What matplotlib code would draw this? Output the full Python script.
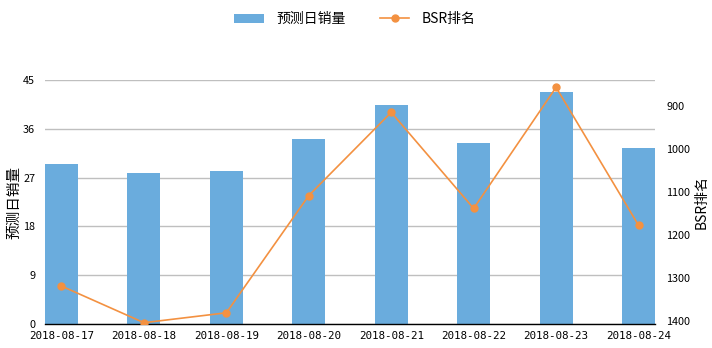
import matplotlib
matplotlib.use("Agg")
import matplotlib.pyplot as plt
import numpy as np

plt.rcParams["font.family"] = ["Noto Sans CJK SC", "DejaVu Sans"]
plt.rcParams["axes.unicode_minus"] = False

# =============================================
#  数据
# =============================================
dates = ["2018-08-17", "2018-08-18", "2018-08-19", "2018-08-20",
         "2018-08-21", "2018-08-22", "2018-08-23", "2018-08-24"]
sales = [29.5, 27.8, 28.2, 34.1, 40.4, 33.4, 42.8, 32.5]
bsr_rank = [1318, 1403, 1380, 1108, 915, 1138, 857, 1177]

BAR_COLOR = "#6AACDD"
LINE_COLOR = "#F39141"
GRID_COLOR = "#BFBFBF"

fig = plt.figure(figsize=(7.12, 3.48), dpi=100)
ax = fig.add_axes([45 / 712, 1 - 324 / 348, 610 / 712, 244 / 348])
ax2 = ax.twinx()

x = np.arange(len(dates))
bars = ax.bar(x, sales, 0.4, color=BAR_COLOR, label="预测日销量", zorder=2)
line, = ax2.plot(x, bsr_rank, color=LINE_COLOR, linewidth=1.2, marker="o",
                 markersize=5, label="BSR排名", zorder=3)

# 左轴
ax.set_xlim(-0.2, len(dates) - 0.8)
ax.set_ylim(0, 45)
ax.set_yticks(np.arange(0, 46, 9))
ax.grid(axis="y", color=GRID_COLOR, linewidth=1, zorder=0)
ax.set_axisbelow(True)
ax.set_xticks(x)
ax.set_xticklabels(dates, family="DejaVu Sans Mono", fontsize=7.8)
ax.tick_params(axis="x", length=0, pad=5)
ax.tick_params(axis="y", length=0, pad=7, labelsize=7.8)
ax.set_ylabel("预测日销量", fontsize=10.5, labelpad=1)

# 右轴 (倒序)
ax2.set_ylim(1406, 840)
ax2.set_yticks([900, 1000, 1100, 1200, 1300, 1400])
ax2.tick_params(axis="y", length=0, pad=8, labelsize=7.8)
ax2.set_ylabel("BSR排名", fontsize=10, labelpad=3)

for a in (ax, ax2):
    for s in ("top", "left", "right", "bottom"):
        a.spines[s].set_visible(False)
ax.spines["bottom"].set_visible(True)
ax.spines["bottom"].set_color("black")
ax.spines["bottom"].set_linewidth(1)
ax.spines["bottom"].set_zorder(4)

fig.legend([bars, line], ["预测日销量", "BSR排名"], loc="center",
           bbox_to_anchor=(355 / 712, 1 - 19 / 348), ncol=2, frameon=False,
           fontsize=10, handlelength=2.1, handleheight=0.6, columnspacing=2.5,
           handletextpad=0.9)

fig.savefig("out.png", dpi=100)
